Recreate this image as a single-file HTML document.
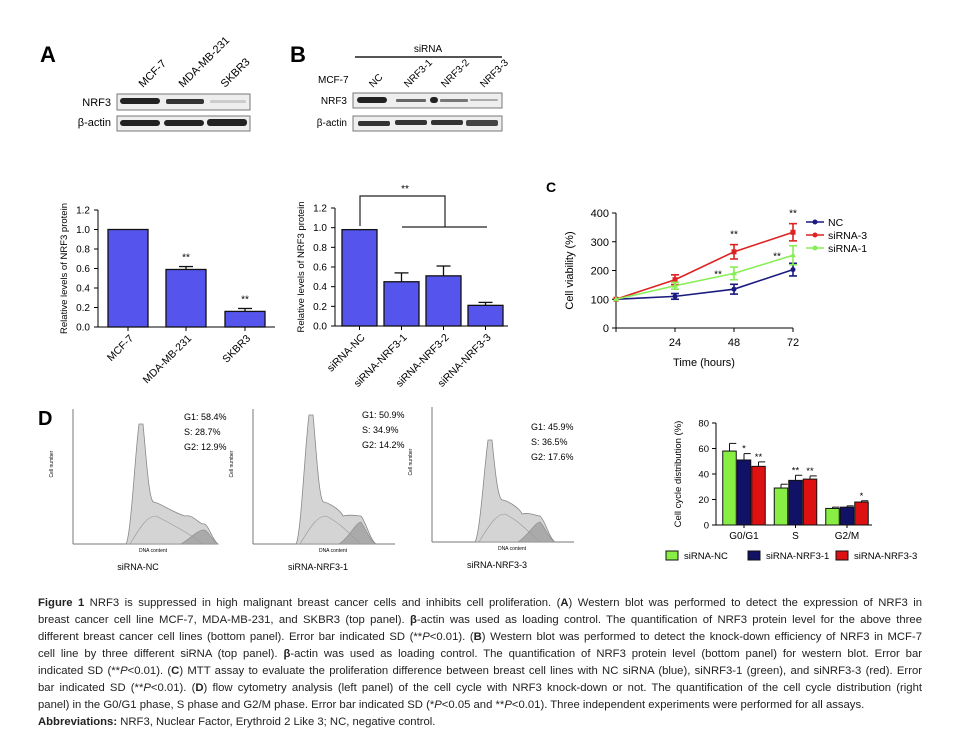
<!DOCTYPE html>
<html><head><meta charset="utf-8"><style>
body{margin:0;background:#fff;width:958px;height:740px;overflow:hidden;font-family:"Liberation Sans",sans-serif}
#fig{position:absolute;left:0;top:0}
.cap{position:absolute;left:38px;width:884px;font-size:11.3px;line-height:17px;color:#222;top:595px}
.cap div{text-align:justify;text-align-last:justify;white-space:nowrap;overflow:visible}
.cap div.last{text-align-last:left}
</style></head><body>
<svg id="fig" width="958" height="590" font-family="Liberation Sans, sans-serif">
<text x="40" y="62" font-size="22" font-weight="bold">A</text>
<text x="290" y="62" font-size="22" font-weight="bold">B</text>
<text x="546" y="192" font-size="14" font-weight="bold">C</text>
<text x="38" y="425" font-size="20" font-weight="bold">D</text>

<g font-size="11">
<text transform="translate(143,88) rotate(-45)">MCF-7</text>
<text transform="translate(183,88) rotate(-45)">MDA-MB-231</text>
<text transform="translate(225,88) rotate(-45)">SKBR3</text>
<text x="111" y="106" text-anchor="end">NRF3</text>
<text x="111" y="126" text-anchor="end">β-actin</text>
<rect x="117" y="94" width="133" height="16" fill="#eee" stroke="#777"/>
<rect x="117" y="116" width="133" height="15" fill="#eee" stroke="#777"/>
<rect x="120" y="98" width="40" height="6" rx="3" fill="#222"/>
<rect x="166" y="99" width="38" height="5" rx="2" fill="#333"/>
<rect x="210" y="100" width="36" height="3" rx="1" fill="#ccc"/>
<rect x="120" y="120" width="40" height="6" rx="3" fill="#222"/>
<rect x="164" y="120" width="40" height="6" rx="3" fill="#222"/>
<rect x="207" y="119" width="40" height="7" rx="3" fill="#222"/>
</g>
<g font-size="10">
<line x1="355" y1="57" x2="502" y2="57" stroke="#555" stroke-width="2"/>
<text x="428" y="52" text-anchor="middle">siRNA</text>
<text x="318" y="83">MCF-7</text>
<text transform="translate(373,88) rotate(-45)">NC</text>
<text transform="translate(408,88) rotate(-45)">NRF3-1</text>
<text transform="translate(445,88) rotate(-45)">NRF3-2</text>
<text transform="translate(484,88) rotate(-45)">NRF3-3</text>
<text x="347" y="104" text-anchor="end">NRF3</text>
<text x="347" y="126" text-anchor="end">β-actin</text>
<rect x="353" y="93" width="149" height="15" fill="#eee" stroke="#777"/>
<rect x="353" y="116" width="149" height="15" fill="#eee" stroke="#777"/>
<rect x="357" y="97" width="30" height="6" rx="3" fill="#222"/>
<rect x="396" y="99" width="30" height="3" rx="1" fill="#666"/>
<rect x="430" y="97" width="8" height="6" rx="3" fill="#222"/>
<rect x="440" y="99" width="28" height="3" rx="1" fill="#777"/>
<rect x="470" y="99" width="28" height="2" rx="1" fill="#aaa"/>
<rect x="358" y="121" width="32" height="5" rx="2" fill="#333"/>
<rect x="395" y="120" width="32" height="5" rx="2" fill="#333"/>
<rect x="431" y="120" width="32" height="5" rx="2" fill="#333"/>
<rect x="466" y="120" width="32" height="6" rx="2" fill="#444"/>
</g>
<g id="chartA"></g>
<g id="chartB"></g>
<g id="chartC"></g>
<g id="chartD"></g>
<g id="hist"></g>
</svg>

<div class="cap">
<div><b>Figure 1</b> NRF3 is suppressed in high malignant breast cancer cells and inhibits cell proliferation. (<b>A</b>) Western blot was performed to detect the expression of NRF3 in</div>
<div>breast cancer cell line MCF-7, MDA-MB-231, and SKBR3 (top panel). <b>β</b>-actin was used as loading control. The quantification of NRF3 protein level for the above three</div>
<div>different breast cancer cell lines (bottom panel). Error bar indicated SD (**<i>P</i>&lt;0.01). (<b>B</b>) Western blot was performed to detect the knock-down efficiency of NRF3 in MCF-7</div>
<div>cell line by three different siRNA (top panel). <b>β</b>-actin was used as loading control. The quantification of NRF3 protein level (bottom panel) for western blot. Error bar</div>
<div>indicated SD (**<i>P</i>&lt;0.01). (<b>C</b>) MTT assay to evaluate the proliferation difference between breast cell lines with NC siRNA (blue), siNRF3-1 (green), and siNRF3-3 (red). Error</div>
<div>bar indicated SD (**<i>P</i>&lt;0.01). (<b>D</b>) flow cytometry analysis (left panel) of the cell cycle with NRF3 knock-down or not. The quantification of the cell cycle distribution (right</div>
<div class="last">panel) in the G0/G1 phase, S phase and G2/M phase. Error bar indicated SD (*<i>P</i>&lt;0.05 and **<i>P</i>&lt;0.01). Three independent experiments were performed for all assays.</div>
<div class="last"><b>Abbreviations:</b> NRF3, Nuclear Factor, Erythroid 2 Like 3; NC, negative control.</div>
</div>

<script>
const aCats = ["MCF-7","MDA-MB-231","SKBR3"];
const aVals = [1.0, 0.59, 0.16];
const aErr = [0, 0.03, 0.03];
const aSig = ["", "**", "**"];
const bCats = ["siRNA-NC","siRNA-NRF3-1","siRNA-NRF3-2","siRNA-NRF3-3"];
const bVals = [0.98, 0.45, 0.51, 0.21];
const bErr = [0, 0.09, 0.1, 0.03];
const relTicks = [0,0.2,0.4,0.6,0.8,1.0,1.2];
const cTimes = [0,24,48,72];
const cNC = [100,110,135,203];
const cNCerr = [0,10,17,22];
const cSi3 = [100,168,265,333];
const cSi3err = [0,17,25,30];
const cSi1 = [100,147,190,253];
const cSi1err = [0,12,22,33];
const cTicks = [0,100,200,300,400];
const dPhases = ["G0/G1","S","G2/M"];
const dNC = [58,29,13];
const dNCerr = [6,3,1];
const dN1 = [51,35,14];
const dN1err = [5,4,1];
const dN3 = [46,36,18];
const dN3err = [3.5,2.5,1];
const dSig1 = ["*","**",""];
const dSig3 = ["**","**","*"];
const dTicks = [0,20,40,60,80];

const NS="http://www.w3.org/2000/svg";
function mk(parent,tag,attrs,text){const e=document.createElementNS(NS,tag);for(const k in attrs)e.setAttribute(k,attrs[k]);if(text!==undefined)e.textContent=text;parent.appendChild(e);return e;}

function relChart(g,cats,vals,err,x0,x1,y0,y1,barX,barW,sig){
  const ys=v=>y0-(v/1.2)*(y0-y1);
  mk(g,'line',{x1:x0,y1:y1,x2:x0,y2:y0,stroke:'#000'});
  mk(g,'line',{x1:x0,y1:y0,x2:x1,y2:y0,stroke:'#000'});
  relTicks.forEach(t=>{
    const y=ys(t);
    const tl=mk(g,'line',{x1:x0-4,y1:y,x2:x0,y2:y,stroke:'#000'});
    
    
    const tx=mk(g,'text',{x:x0-8,y:y+3.5,'font-size':10,'text-anchor':'end'},t.toFixed(1));
    
    
  });
  const yl=mk(g,'text',{transform:`translate(${x0-31},${(y0+y1)/2}) rotate(-90)`,'font-size':9.5,'text-anchor':'middle'},'Relative levels of NRF3 protein');
  
  
  cats.forEach((c,i)=>{
    const bx=barX[i], v=vals[i];
    const r=mk(g,'rect',{x:bx,y:ys(v),width:barW,height:y0-ys(v),fill:'#5555ee',stroke:'#111','stroke-width':1.3});
    
    
    const cx=bx+barW/2;
    if(err[i]>0){
      mk(g,'line',{x1:cx,y1:ys(v),x2:cx,y2:ys(v+err[i]),stroke:'#111','stroke-width':1.3});
      mk(g,'line',{x1:cx-7,y1:ys(v+err[i]),x2:cx+7,y2:ys(v+err[i]),stroke:'#111','stroke-width':1.3});
    }
    if(sig&&sig[i]){mk(g,'text',{x:cx,y:ys(v+err[i])-6,'font-size':10,'text-anchor':'middle'},sig[i]);}
    mk(g,'line',{x1:cx,y1:y0,x2:cx,y2:y0+4,stroke:'#000'});
    const lb=mk(g,'text',{transform:`translate(${cx+6},${y0+12}) rotate(-45)`,'font-size':10.5,'text-anchor':'end'},c);
    
    
  });
  return ys;
}
const gA=document.getElementById('chartA');
relChart(gA,aCats,aVals,aErr,98,275,327,210,[108,166,225],40,aSig);
const gB=document.getElementById('chartB');
relChart(gB,bCats,bVals,bErr,335,508,326,208,[342,384,426,468],35,null);
const br=mk(gB,'path',{d:'M360,226 V196 H445 V227 M402,227 H487',fill:'none',stroke:'#222','stroke-width':1.2});


mk(gB,'text',{x:405,y:192,'font-size':10,'text-anchor':'middle'},'**');

(function(){
  const g=document.getElementById('chartC');
  const x0=616,y0=328,y1=213, xs=t=>x0+t*(793-616)/72, ys=v=>y0-v/400*(y0-y1);
  mk(g,'line',{x1:x0,y1:y1,x2:x0,y2:y0,stroke:'#000'});
  mk(g,'line',{x1:x0,y1:y0,x2:xs(72),y2:y0,stroke:'#000'});
  cTicks.forEach(t=>{const y=ys(t);mk(g,'line',{x1:x0-4,y1:y,x2:x0,y2:y,stroke:'#000'});
    const tx=mk(g,'text',{x:x0-7,y:y+4,'font-size':11,'text-anchor':'end'},t);
    
    });
  cTimes.forEach(t=>{const x=xs(t);mk(g,'line',{x1:x,y1:y0,x2:x,y2:y0+4,stroke:'#000'});
    if(t>0){const tx=mk(g,'text',{x:x,y:y0+18,'font-size':11,'text-anchor':'middle'},t);
    
    }});
  const xt=mk(g,'text',{x:704,y:366,'font-size':11,'text-anchor':'middle'},'Time (hours)');
  
  
  const yt=mk(g,'text',{transform:`translate(573,${(y0+y1)/2}) rotate(-90)`,'font-size':11,'text-anchor':'middle'},'Cell viability (%)');
  
  
  const series=[[cNC,cNCerr,'#1a1a80','NC','circle'],[cSi3,cSi3err,'#dd2222','siRNA-3','square'],[cSi1,cSi1err,'#88ee55','siRNA-1','tri']];
  series.forEach((s,si)=>{
    const [vals,err,col,name,shape]=s;
    const pl=mk(g,'polyline',{points:vals.map((v,i)=>xs(cTimes[i])+','+ys(v)).join(' '),fill:'none',stroke:col,'stroke-width':1.6});
    
    
    vals.forEach((v,i)=>{const x=xs(cTimes[i]);
      if(err[i]>0){mk(g,'line',{x1:x,y1:ys(v-err[i]),x2:x,y2:ys(v+err[i]),stroke:col,'stroke-width':1.6});
        [v-err[i],v+err[i]].forEach(e=>mk(g,'line',{x1:x-4,y1:ys(e),x2:x+4,y2:ys(e),stroke:col,'stroke-width':1.6}));}
      const p=shape==='circle'?mk(g,'circle',{cx:x,cy:ys(v),r:2.5,fill:col}):shape==='square'?mk(g,'rect',{x:x-2.5,y:ys(v)-2.5,width:5,height:5,fill:col}):mk(g,'path',{d:`M${x},${ys(v)-3} l3,5 h-6z`,fill:col});
      
      
    });
    const ly=222+si*13;
    mk(g,'line',{x1:806,y1:ly,x2:824,y2:ly,stroke:col,'stroke-width':1.6});
    mk(g,'circle',{cx:815,cy:ly,r:2.5,fill:col});
    const lt=mk(g,'text',{x:828,y:ly+4,'font-size':10.5},name);
    
    
  });
  [48,72].forEach(t=>{const i=cTimes.indexOf(t);mk(g,'text',{x:xs(t),y:ys(cSi3[i]+cSi3err[i])-7,'font-size':10,'text-anchor':'middle'},'**');});
  [48,72].forEach(t=>{const i=cTimes.indexOf(t);mk(g,'text',{x:xs(t)-16,y:ys(cSi1[i])+4,'font-size':10,'text-anchor':'middle'},'**');});
})();

(function(){
  const g=document.getElementById('chartD');
  const x0=716,y0=525,y1=423, ys=v=>y0-v/80*(y0-y1);
  mk(g,'line',{x1:x0,y1:y1,x2:x0,y2:y0,stroke:'#000'});
  mk(g,'line',{x1:x0,y1:y0,x2:872,y2:y0,stroke:'#000'});
  dTicks.forEach(t=>{const y=ys(t);mk(g,'line',{x1:x0-4,y1:y,x2:x0,y2:y,stroke:'#000'});
    const tx=mk(g,'text',{x:x0-7,y:y+3.5,'font-size':9.5,'text-anchor':'end'},t);
    
    });
  const yt=mk(g,'text',{transform:`translate(681,${(y0+y1)/2}) rotate(-90)`,'font-size':9.5,'text-anchor':'middle'},'Cell cycle distribution (%)');
  
  
  const ser=[[dNC,dNCerr,'#88ee44',null],[dN1,dN1err,'#111166',dSig1],[dN3,dN3err,'#dd1111',dSig3]];
  const bw=13.5;
  dPhases.forEach((p,pi)=>{
    const cx=744+pi*51.5;
    ser.forEach((s,si)=>{
      const [vals,err,col,sig]=s, bx=cx-bw*1.5+si*bw+(si-1)*1, v=vals[pi];
      const r=mk(g,'rect',{x:bx,y:ys(v),width:bw,height:y0-ys(v),fill:col,stroke:'#111','stroke-width':1});
      
      
      const mx=bx+bw/2, ey=ys(v+err[pi]);
      mk(g,'line',{x1:mx,y1:ys(v),x2:mx,y2:ey,stroke:'#111'});
      mk(g,'line',{x1:mx,y1:ey,x2:mx+bw/2,y2:ey,stroke:'#111'});
      if(sig&&sig[pi])mk(g,'text',{x:mx,y:ey-2,'font-size':9.5,'text-anchor':'middle'},sig[pi]);
    });
    mk(g,'line',{x1:cx,y1:y0,x2:cx,y2:y0+3,stroke:'#000'});
    const tx=mk(g,'text',{x:cx,y:y0+14,'font-size':10,'text-anchor':'middle'},p);
    
    
  });
  const leg=[['#88ee44','siRNA-NC',666],['#111166','siRNA-NRF3-1',748],['#dd1111','siRNA-NRF3-3',836]];
  leg.forEach(([c,n,x])=>{mk(g,'rect',{x:x,y:551,width:12,height:9,fill:c,stroke:'#111'});
    const t=mk(g,'text',{x:x+18,y:559,'font-size':9.5},n);
    
    });
})();

(function(){
  const g=document.getElementById('hist');
  const panels=[[73,544,142,424,"siRNA-NC",["G1: 58.4%","S: 28.7%","G2: 12.9%"],184,420,203,524],
                [253,544,312,415,"siRNA-NRF3-1",["G1: 50.9%","S: 34.9%","G2: 14.2%"],362,418,361,516],
                [432,542,491,440,"siRNA-NRF3-3",["G1: 45.9%","S: 36.5%","G2: 17.6%"],531,430,540,516]];
  panels.forEach(([ax,by,px,py,name,txt,tx,ty,g2x,g2y])=>{
    const pg=mk(g,'g',{});
    
    
    mk(pg,'line',{x1:ax,y1:by-135,x2:ax,y2:by,stroke:'#777'});
    mk(pg,'line',{x1:ax,y1:by,x2:ax+142,y2:by,stroke:'#777'});
    mk(pg,'path',{d:`M${px-16},${by} C${px-11},${by-8} ${px-7},${py+30} ${px-3},${py} L${px+1},${py} C${px+4},${py+30} ${px+7},${by-40} ${px+12},${by-42} C${px+20},${by-40} ${px+30},${by-32} ${g2x-18},${by-28} C${g2x-10},${by-30} ${g2x-4},${g2y} ${g2x},${g2y} C${g2x+5},${by-22} ${g2x+9},${by-4} ${g2x+15},${by} Z`,fill:'#d4d4d4',stroke:'#888','stroke-width':0.8});
    mk(pg,'path',{d:`M${g2x-22},${by} C${g2x-12},${by-6} ${g2x-5},${g2y+6} ${g2x},${g2y+6} C${g2x+5},${by-15} ${g2x+9},${by-3} ${g2x+15},${by} Z`,fill:'#aaa',stroke:'#888','stroke-width':0.6});
    mk(pg,'path',{d:`M${px-12},${by} C${px},${by-20} ${px+6},${by-28} ${px+14},${by-28} C${px+30},${by-20} ${g2x-10},${by-8} ${g2x},${by}`,fill:'none',stroke:'#999','stroke-width':0.6});
    mk(pg,'text',{transform:`translate(${ax-20},${by-80}) rotate(-90)`,'font-size':5,'text-anchor':'middle'},'Cell number');
    mk(pg,'text',{x:ax+80,y:by+8,'font-size':5,'text-anchor':'middle'},'DNA content');
    txt.forEach((t,i)=>mk(pg,'text',{x:tx,y:ty+i*15,'font-size':9},t));
    const l=mk(pg,'text',{x:ax+65,y:by+26,'font-size':9,'text-anchor':'middle'},name);
    
    
  });
})();
</script>
</body></html>
